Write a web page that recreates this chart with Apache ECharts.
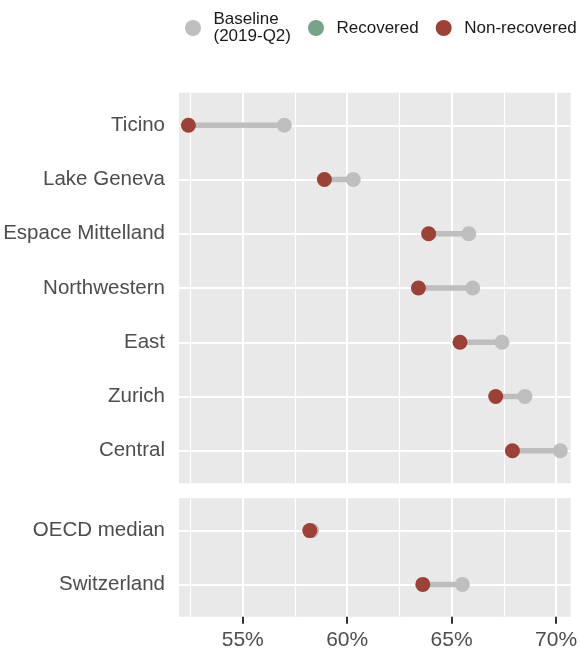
<!DOCTYPE html>
<html>
<head>
<meta charset="utf-8">
<script src="https://cdn.jsdelivr.net/npm/echarts@6/dist/echarts.min.js"></script>
<style>
  html, body { margin: 0; padding: 0; background: #fff; }
  #chart { width: 580px; height: 651px; }
</style>
</head>
<body>
<div id="chart"></div>
<script>
// regions (top facet)
const regions = ['Ticino', 'Lake Geneva', 'Espace Mittelland', 'Northwestern', 'East', 'Zurich', 'Central']
const regionBaseline = [56.99, 60.29, 65.82, 66.01, 67.41, 68.51, 70.20]
const regionNonRecovered = [52.40, 58.91, 63.90, 63.41, 65.40, 67.11, 67.91]

// benchmarks (bottom facet)
const benchmarks = ['OECD median', 'Switzerland']
const benchBaseline = [58.30, 65.51]
const benchNonRecovered = [58.21, 63.62]

const majorTicks = [55, 60, 65, 70]
const minorTicks = [52.5, 57.5, 62.5, 67.5]

const FONT = '"Liberation Sans Narrow", "Arial Narrow", "Liberation Sans", sans-serif'
const PANEL_BG = '#e9e9e9'
const GREY = '#bebebe'
const GREEN = '#79a389'
const RED = '#9c4136'
const BASE_NAME = 'Baseline\n(2019-Q2)'
const X_MIN = 51.95
const X_MAX = 70.7

const chart = echarts.init(document.getElementById('chart'))

// panel background + vertical grid lines
function gridAxes(gridIndex, withLabels) {
  return [
    {
      type: 'value', gridIndex, min: X_MIN, max: X_MAX,
      axisLine: { show: false },
      axisTick: { show: withLabels, customValues: majorTicks, length: 7, lineStyle: { color: '#333', width: 2 } },
      axisLabel: {
        show: withLabels, customValues: majorTicks, margin: 13,
        formatter: v => v + '%', color: '#4d4d4d', fontSize: 21, fontFamily: FONT
      },
      splitLine: { show: true, lineStyle: { color: '#fff', width: 2 } }
    },
    {
      type: 'value', gridIndex, min: X_MIN, max: X_MAX,
      axisLine: { show: false },
      axisTick: { show: false, customValues: minorTicks },
      axisLabel: { show: false },
      splitLine: { show: true, lineStyle: { color: '#fff', width: 1.2 } }
    }
  ]
}

function dataXAxis(gridIndex) {
  return {
    type: 'value', gridIndex, min: X_MIN, max: X_MAX, show: false,
    splitLine: { show: false }
  }
}

function catYAxis(gridIndex, cats) {
  return {
    type: 'category', gridIndex, data: cats, inverse: true, boundaryGap: false,
    axisLine: { show: false },
    axisTick: { show: false },
    axisLabel: { color: '#4d4d4d', fontSize: 20.5, fontFamily: FONT, margin: 14 },
    splitLine: { show: true, lineStyle: { color: '#fff', width: 2 } }
  }
}

function segmentSeries(xi, yi, base, nonrec) {
  return {
    type: 'custom',
    xAxisIndex: xi, yAxisIndex: yi,
    encode: { x: [0, 1], y: 2 },
    data: base.map((b, i) => [b, nonrec[i], i]),
    renderItem(params, api) {
      const a = api.coord([api.value(0), api.value(2)])
      const b = api.coord([api.value(1), api.value(2)])
      return {
        type: 'line',
        shape: { x1: a[0], y1: a[1], x2: b[0], y2: b[1] },
        style: { stroke: GREY, lineWidth: 5.5 }
      }
    },
    silent: true
  }
}

function dotSeries(name, color, xi, yi, vals, cats) {
  return {
    name, type: 'scatter', xAxisIndex: xi, yAxisIndex: yi,
    symbolSize: 15, clip: false,
    itemStyle: { color, opacity: 1 },
    data: vals.map((v, i) => [v, cats[i]])
  }
}

const gridBase = { left: 179, right: 9.3, containLabel: false, outerBoundsMode: 'none' }

chart.setOption({
  animation: false,
  legend: {
    left: 185, top: 11, padding: 0,
    itemWidth: 31, itemHeight: 16, itemGap: 17,
    icon: 'circle',
    textStyle: { fontSize: 17, lineHeight: 17, color: '#1a1a1a', fontFamily: FONT },
    data: [BASE_NAME, 'Recovered', 'Non-recovered']
  },
  grid: [
    { ...gridBase, top: 92.7, height: 390.6, show: true, backgroundColor: PANEL_BG, borderWidth: 0 },
    { ...gridBase, top: 125.25, height: 325.5 },
    { ...gridBase, top: 498.3, height: 118.4, show: true, backgroundColor: PANEL_BG, borderWidth: 0 },
    { ...gridBase, top: 530.6, height: 53.8 }
  ],
  xAxis: [
    ...gridAxes(0, false),   // 0, 1
    dataXAxis(1),            // 2
    ...gridAxes(2, true),    // 3, 4
    dataXAxis(3)             // 5
  ],
  yAxis: [
    { type: 'value', gridIndex: 0, show: false },
    catYAxis(1, regions),
    { type: 'value', gridIndex: 2, show: false },
    catYAxis(3, benchmarks)
  ],
  series: [
    segmentSeries(2, 1, regionBaseline, regionNonRecovered),
    segmentSeries(5, 3, benchBaseline, benchNonRecovered),
    dotSeries(BASE_NAME, GREY, 2, 1, regionBaseline, regions),
    dotSeries(BASE_NAME, GREY, 5, 3, benchBaseline, benchmarks),
    dotSeries('Recovered', GREEN, 2, 1, [], []),
    dotSeries('Non-recovered', RED, 2, 1, regionNonRecovered, regions),
    dotSeries('Non-recovered', RED, 5, 3, benchNonRecovered, benchmarks)
  ]
})
</script>
</body>
</html>
